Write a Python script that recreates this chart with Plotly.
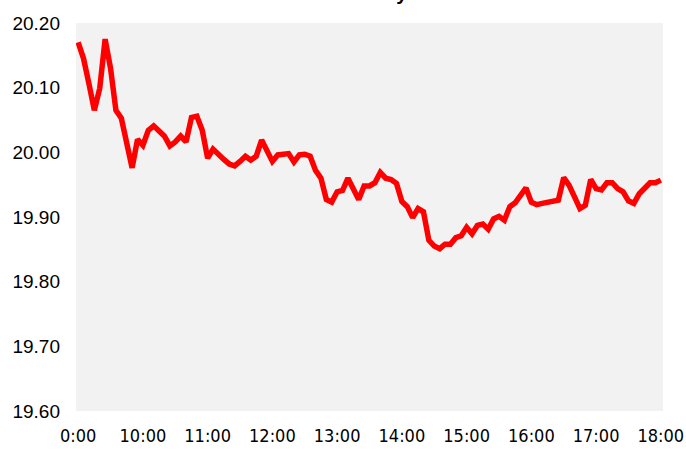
import plotly.graph_objects as go

title_text = "ZAR/JPY Daily Chart"
tick_labels = ["0:00", "10:00", "11:00", "12:00", "13:00", "14:00", "15:00", "16:00", "17:00", "18:00"]
tick_positions = [0, 12, 24, 36, 48, 60, 72, 84, 96, 108]
y_ticks = [19.60, 19.70, 19.80, 19.90, 20.00, 20.10, 20.20]

prices = [
    20.170, 20.145, 20.106, 20.065, 20.099, 20.175, 20.130, 20.065, 20.053, 20.011,
    19.976, 20.020, 20.011, 20.034, 20.041, 20.033, 20.025, 20.010, 20.016, 20.025,
    20.016, 20.054, 20.056, 20.034, 19.991, 20.005, 19.996, 19.989, 19.982, 19.979,
    19.986, 19.994, 19.988, 19.994, 20.019, 20.003, 19.986, 19.996, 19.998, 19.998,
    19.985, 19.996, 19.997, 19.994, 19.972, 19.960, 19.927, 19.923, 19.939, 19.941,
    19.960, 19.943, 19.927, 19.948, 19.948, 19.953, 19.969, 19.960, 19.958, 19.952,
    19.924, 19.916, 19.899, 19.913, 19.908, 19.864, 19.855, 19.851, 19.858, 19.858,
    19.868, 19.871, 19.884, 19.874, 19.887, 19.889, 19.881, 19.897, 19.901, 19.895,
    19.916, 19.922, 19.932, 19.945, 19.923, 19.919, 19.921, 19.923, 19.925, 19.926,
    19.961, 19.949, 19.931, 19.913, 19.918, 19.958, 19.944, 19.942, 19.953, 19.953,
    19.944, 19.939, 19.925, 19.921, 19.936, 19.944, 19.953, 19.953, 19.957,
]
x_index = list(range(len(prices)))

fig = go.Figure()
fig.add_trace(go.Scatter(
    x=x_index, y=prices, mode="lines",
    line=dict(color="#FF0000", width=5.5),
    hoverinfo="skip",
))

fig.update_layout(
    width=686, height=452,
    margin=dict(l=76, r=23, t=23, b=41, pad=0),
    paper_bgcolor="white",
    plot_bgcolor="#F2F2F2",
    showlegend=False,
    font=dict(family="Liberation Sans, Arial, sans-serif", color="black"),
)
fig.update_xaxes(
    range=[-0.4, 108.4], automargin=False,
    tickmode="array", tickvals=tick_positions, ticktext=tick_labels,
    showgrid=False, zeroline=False, showline=False, ticks="",
    tickfont=dict(family="DejaVu Sans Condensed, Liberation Sans Narrow, Liberation Sans, sans-serif", size=18, color="black"),
    ticklabelstandoff=12,
)
fig.update_yaxes(
    range=[19.6, 20.2], automargin=False,
    tickmode="array", tickvals=y_ticks, ticktext=[f"{v:.2f}" for v in y_ticks],
    showgrid=False, zeroline=False, showline=False, ticks="",
    tickfont=dict(family="Liberation Sans, Arial, sans-serif", size=19, color="black"),
    ticklabelstandoff=15,
)
fig.add_annotation(
    text="<b>" + title_text + "</b>",
    xref="paper", yref="paper", x=(368 - 76) / 587, y=(411 - 6.4) / 388,
    xanchor="center", yanchor="bottom", showarrow=False,
    font=dict(family="Liberation Sans, Arial, sans-serif", size=20, color="black"),
)

fig.write_html("out.html")
